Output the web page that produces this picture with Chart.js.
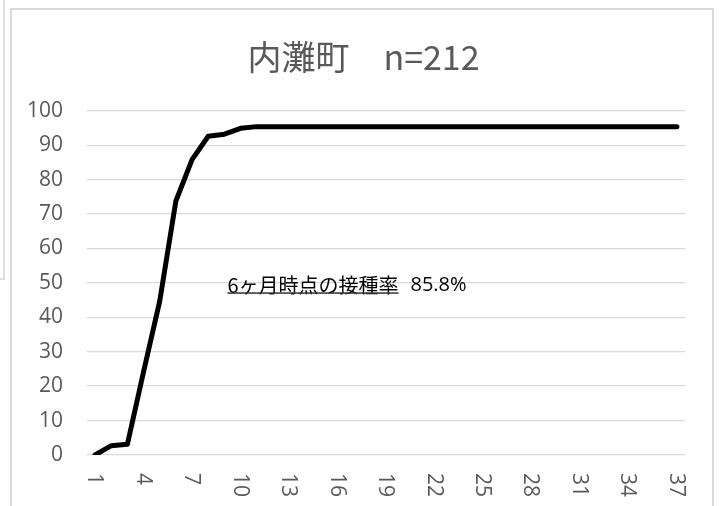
<!DOCTYPE html>
<html>
<head>
<meta charset="utf-8">
<script src="https://cdn.jsdelivr.net/npm/chart.js@4/dist/chart.umd.min.js"></script>
<style>
  html, body { margin: 0; padding: 0; background: #fff; overflow: hidden; }
  #wrap { position: relative; width: 727px; height: 506px; }
  #frame { position: absolute; left: 10px; top: 8px; width: 700px; height: 540px; border: 2px solid #d9d9d9; }
  #side { position: absolute; left: -100px; top: -10px; width: 101px; height: 286px; border: 2px solid #e0e0e0; }
  canvas { position: absolute; left: 0; top: 0; }
</style>
</head>
<body>
<div id="wrap">
  <div id="side"></div>
  <div id="frame"></div>
  <canvas id="c" width="727" height="506"></canvas>
</div>
<script>
const titleText = '内灘町　n=212';
const months = ['1','2','3','4','5','6','7','8','9','10','11','12','13','14','15','16','17','18','19','20','21','22','23','24','25','26','27','28','29','30','31','32','33','34','35','36','37'];
const rates = [0, 2.7, 3.1, 24.2, 44.7, 73.8, 85.8, 92.6, 93.2, 94.9, 95.4, 95.4, 95.4, 95.4, 95.4, 95.4, 95.4, 95.4, 95.4, 95.4, 95.4, 95.4, 95.4, 95.4, 95.4, 95.4, 95.4, 95.4, 95.4, 95.4, 95.4, 95.4, 95.4, 95.4, 95.4, 95.4, 95.4];
const yTicks = [0, 10, 20, 30, 40, 50, 60, 70, 80, 90, 100];
const noteLabel = '6ヶ月時点の接種率';
const noteValue = '85.8%';
const noteAtIndex = 8;
const noteAtValue = 49.3;

const tickFont = { family: "'Open Sans', 'Noto Sans', sans-serif", size: 21 };
const tickColor = '#595959';

const centerTitle = {
  id: 'centerTitle',
  afterLayout(chart) {
    if (chart.titleBlock) {
      chart.titleBlock.left = 0;
      chart.titleBlock.right = chart.width;
    }
  }
};

const rotatedXLabels = {
  id: 'rotatedXLabels',
  afterDraw(chart) {
    const xs = chart.scales.x;
    const ctx = chart.ctx;
    ctx.save();
    ctx.font = tickFont.size + 'px ' + tickFont.family;
    ctx.fillStyle = tickColor;
    ctx.textAlign = 'left';
    ctx.textBaseline = 'middle';
    months.forEach((m, i) => {
      if (i % 3 !== 0) return;
      const x = xs.getPixelForValue(i);
      ctx.save();
      ctx.translate(x - 1, xs.top + 18);
      ctx.rotate(Math.PI / 2);
      ctx.fillText(m, 0, 0);
      ctx.restore();
    });
    ctx.restore();
  }
};

const note = {
  id: 'note',
  afterDraw(chart) {
    const xs = chart.scales.x, ys = chart.scales.y;
    const ctx = chart.ctx;
    const x0 = xs.getPixelForValue(noteAtIndex) + 3;
    const y0 = ys.getPixelForValue(noteAtValue);
    ctx.save();
    ctx.font = "20px 'Noto Sans CJK JP', sans-serif";
    ctx.fillStyle = '#000';
    ctx.textAlign = 'left';
    ctx.textBaseline = 'middle';
    ctx.fillText(noteLabel, x0, y0);
    const w = ctx.measureText(noteLabel).width;
    ctx.fillStyle = '#333';
    ctx.fillRect(x0, y0 + 7, w, 1.5);
    ctx.fillStyle = '#000';
    ctx.font = "20px 'Open Sans', sans-serif";
    ctx.fillText(noteValue, x0 + w + 12, y0);
    ctx.restore();
  }
};

new Chart(document.getElementById('c'), {
  type: 'line',
  data: {
    labels: months,
    datasets: [{
      data: rates,
      borderColor: '#000',
      borderWidth: 5,
      pointRadius: 0,
      tension: 0,
      borderCapStyle: 'round',
      borderJoinStyle: 'round',
      fill: false
    }]
  },
  options: {
    responsive: false,
    animation: false,
    layout: { padding: { left: 3, right: 42, top: 37, bottom: 27 } },
    plugins: {
      legend: { display: false },
      tooltip: { enabled: false },
      title: {
        display: true,
        text: titleText,
        color: '#595959',
        font: { family: "'Noto Sans CJK JP', sans-serif", size: 34, weight: 'normal' },
        padding: { top: 0, bottom: 33 }
      }
    },
    scales: {
      x: {
        type: 'category',
        offset: true,
        grid: { display: false, drawTicks: false },
        border: { display: false },
        ticks: {
          autoSkip: false,
          minRotation: 90,
          maxRotation: 90,
          padding: 0,
          color: 'rgba(0,0,0,0)',
          font: tickFont,
          callback: (v, i) => (i % 3 === 0 ? months[i] : '')
        }
      },
      y: {
        min: 0,
        max: 100,
        afterBuildTicks: (s) => { s.ticks = yTicks.map(v => ({ value: v })); },
        afterFit: (s) => { s.width = 84; },
        grid: { color: '#d9d9d9', lineWidth: 1.3, drawTicks: false },
        border: { display: false },
        ticks: { color: tickColor, font: tickFont, padding: 24 }
      }
    }
  },
  plugins: [centerTitle, rotatedXLabels, note]
});
</script>
</body>
</html>
